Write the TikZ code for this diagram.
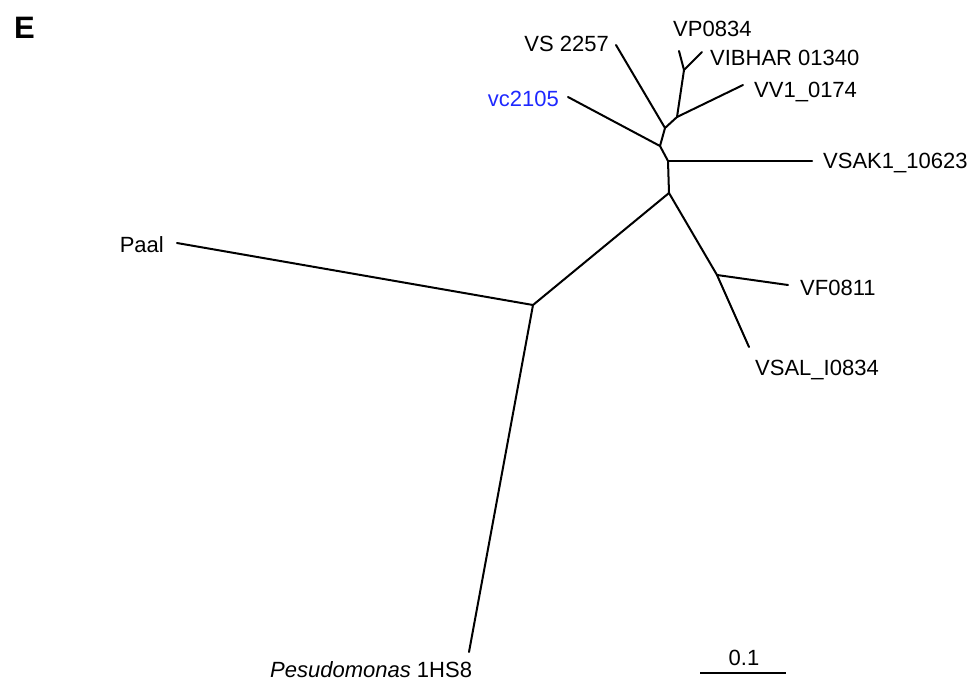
\documentclass[tikz,border=0pt]{standalone}
\usepackage{fontspec}
\setmainfont{Liberation Sans}
\begin{document}
\begin{tikzpicture}[x=1pt,y=-1pt,
  branch/.style={line width=2pt,line cap=round,line join=round},
  leaf/.style={inner sep=0pt,font=\fontsize{22}{26}\selectfont},
  hilite/.style={leaf,text={rgb,255:red,30;green,40;blue,255}}]
\useasboundingbox (0,0) rectangle (969,697);

% panel letter
\node[inner sep=0pt,anchor=base west,font=\fontsize{31}{34}\selectfont\bfseries] (panel) at (14,38) {E};

% internal nodes of the tree
\coordinate (root)  at (533,305);
\coordinate (nA)    at (669,193);
\coordinate (nB)    at (668,161);
\coordinate (nC)    at (660,146);
\coordinate (nD)    at (665,128);
\coordinate (nE)    at (677,117);
\coordinate (nF)    at (684,70);
\coordinate (nG)    at (717,275);

% branch tips
\coordinate (tPaal) at (177,243);
\coordinate (tPs)   at (469,652);
\coordinate (tSAK)  at (812,161);
\coordinate (tVC)   at (568,97);
\coordinate (tVS)   at (616,45);
\coordinate (tVP)   at (679,51);
\coordinate (tVIB)  at (702,52);
\coordinate (tVV)   at (743,85);
\coordinate (tVF)   at (788,285);
\coordinate (tSAL)  at (749,347);

% branches
\draw[branch] (root) -- (tPaal);
\draw[branch] (root) -- (tPs);
\draw[branch] (root) -- (nA);
\draw[branch] (nA) -- (nB);
\draw[branch] (nB) -- (tSAK);
\draw[branch] (nB) -- (nC);
\draw[branch] (nC) -- (tVC);
\draw[branch] (nC) -- (nD);
\draw[branch] (nD) -- (tVS);
\draw[branch] (nD) -- (nE);
\draw[branch] (nE) -- (tVV);
\draw[branch] (nE) -- (nF);
\draw[branch] (nF) -- (tVP);
\draw[branch] (nF) -- (tVIB);
\draw[branch] (nA) -- (nG);
\draw[branch] (nG) -- (tVF);
\draw[branch] (nG) -- (tSAL);

% taxon labels
\node[leaf,anchor=base east] (lPaal) at (164,252) {Paal};
\node[leaf,anchor=base west] (lPs)   at (270,677) {\textit{Pesudomonas} 1HS8};
\node[leaf,anchor=base west] (lSAK)  at (823,168) {VSAK1\_10623};
\node[hilite,anchor=base east] (lVC) at (559,106) {vc2105};
\node[leaf,anchor=base east] (lVS)   at (609,51)  {VS 2257};
\node[leaf,anchor=base west] (lVP)   at (673,36)  {VP0834};
\node[leaf,anchor=base west] (lVIB)  at (710,65)  {VIBHAR 01340};
\node[leaf,anchor=base west] (lVV)   at (754,97)  {VV1\_0174};
\node[leaf,anchor=base west] (lVF)   at (800,295) {VF0811};
\node[leaf,anchor=base west] (lSAL)  at (755,375) {VSAL\_I0834};

% scale bar
\coordinate (sbL) at (700,673);
\coordinate (sbR) at (786,673);
\draw[line width=1.7pt] (sbL) -- (sbR);
\node[leaf,anchor=base] (sbText) at (744,665) {0.1};
\end{tikzpicture}
\end{document}
